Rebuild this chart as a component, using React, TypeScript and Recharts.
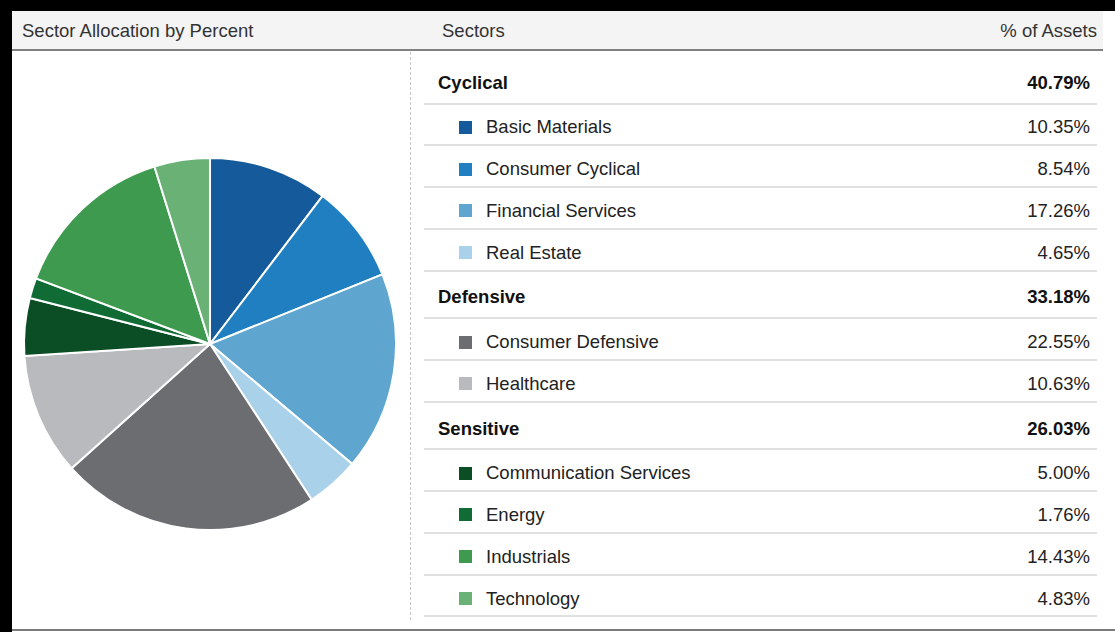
import React from "react";
import { PieChart, Pie, Cell } from "recharts";

const groups = ["Cyclical", "Defensive", "Sensitive"];
const groupValues = [40.79, 33.18, 26.03];

const sectors = [
  "Basic Materials",
  "Consumer Cyclical",
  "Financial Services",
  "Real Estate",
  "Consumer Defensive",
  "Healthcare",
  "Communication Services",
  "Energy",
  "Industrials",
  "Technology",
];
const sectorValues = [10.35, 8.54, 17.26, 4.65, 22.55, 10.63, 5.0, 1.76, 14.43, 4.83];
const sectorGroup = [0, 0, 0, 0, 1, 1, 2, 2, 2, 2];
const sectorColors = [
  "#155b9b",
  "#1f7fc1",
  "#5ea6d0",
  "#a9d1e9",
  "#6c6d71",
  "#b9babd",
  "#0b4d25",
  "#116b35",
  "#3d9a4e",
  "#6ab176",
];

const pieData = sectors.map((name, i) => ({ name, value: sectorValues[i] }));

const FONT = '"Liberation Sans", Arial, Helvetica, sans-serif';
const GROUP_H = 47.5;
const ROW_H = 41.8;

const App: React.FC = () => {
  const rows: { label: string; value: number; group: boolean; color?: string }[] = [];
  groups.forEach((g, gi) => {
    rows.push({ label: g, value: groupValues[gi], group: true });
    sectors.forEach((s, si) => {
      if (sectorGroup[si] === gi) {
        rows.push({ label: s, value: sectorValues[si], group: false, color: sectorColors[si] });
      }
    });
  });

  return (
    <div
      style={{
        position: "absolute",
        left: 0,
        top: 0,
        width: 1115,
        height: 632,
        background: "#fff",
        fontFamily: FONT,
        fontSize: 18.5,
        color: "#222",
        overflow: "hidden",
      }}
    >
      {/* frame */}
      <div style={{ position: "absolute", left: 0, top: 0, width: 1115, height: 11, background: "#000" }} />
      <div style={{ position: "absolute", left: 0, top: 0, width: 12, height: 632, background: "#000" }} />
      <div style={{ position: "absolute", left: 12, top: 629, width: 1103, height: 2, background: "#7a7a7a" }} />

      {/* header */}
      <div
        style={{
          position: "absolute",
          left: 12,
          top: 11,
          width: 1091,
          height: 38,
          background: "#f4f4f4",
          borderBottom: "2px solid #808080",
        }}
      >
        <span style={{ position: "absolute", left: 10, top: 9, color: "#333" }}>
          Sector Allocation by Percent
        </span>
        <span style={{ position: "absolute", left: 430, top: 9, color: "#333" }}>Sectors</span>
        <span style={{ position: "absolute", right: 6, top: 9, color: "#333" }}>% of Assets</span>
      </div>

      {/* dotted divider */}
      <div
        style={{
          position: "absolute",
          left: 410,
          top: 52,
          height: 568,
          borderLeft: "1px dashed #c8c8c8",
        }}
      />

      {/* pie */}
      <div style={{ position: "absolute", left: 12, top: 51 }}>
        <PieChart width={396} height={570} margin={{ top: 0, right: 0, bottom: 0, left: 0 }}>
          <Pie
            data={pieData}
            dataKey="value"
            cx={198}
            cy={293}
            outerRadius={186}
            startAngle={90}
            endAngle={-270}
            stroke="#fff"
            strokeWidth={2}
            isAnimationActive={false}
          >
            {pieData.map((d, i) => (
              <Cell key={d.name} fill={sectorColors[i]} />
            ))}
          </Pie>
        </PieChart>
      </div>

      {/* table */}
      <div style={{ position: "absolute", left: 424, top: 57, width: 673 }}>
        {rows.map((r) => (
          <div
            key={r.label}
            style={{
              boxSizing: "border-box",
              height: r.group ? GROUP_H : ROW_H,
              borderBottom: "2px solid #e0e0e0",
              display: "flex",
              alignItems: "center",
              paddingTop: 6,
              position: "relative",
            }}
          >
            {r.group ? (
              <span style={{ marginLeft: 14, fontWeight: "bold", color: "#111" }}>{r.label}</span>
            ) : (
              <>
                <span
                  style={{
                    marginLeft: 35,
                    width: 13,
                    height: 13,
                    background: r.color,
                    display: "inline-block",
                  }}
                />
                <span style={{ marginLeft: 14 }}>{r.label}</span>
              </>
            )}
            <span
              style={{
                position: "absolute",
                right: 7,
                top: "50%",
                transform: "translateY(-50%)",
                marginTop: 3,
                fontWeight: r.group ? "bold" : "normal",
                color: r.group ? "#111" : "#222",
              }}
            >
              {r.value.toFixed(2)}%
            </span>
          </div>
        ))}
      </div>
    </div>
  );
};

export default App;
